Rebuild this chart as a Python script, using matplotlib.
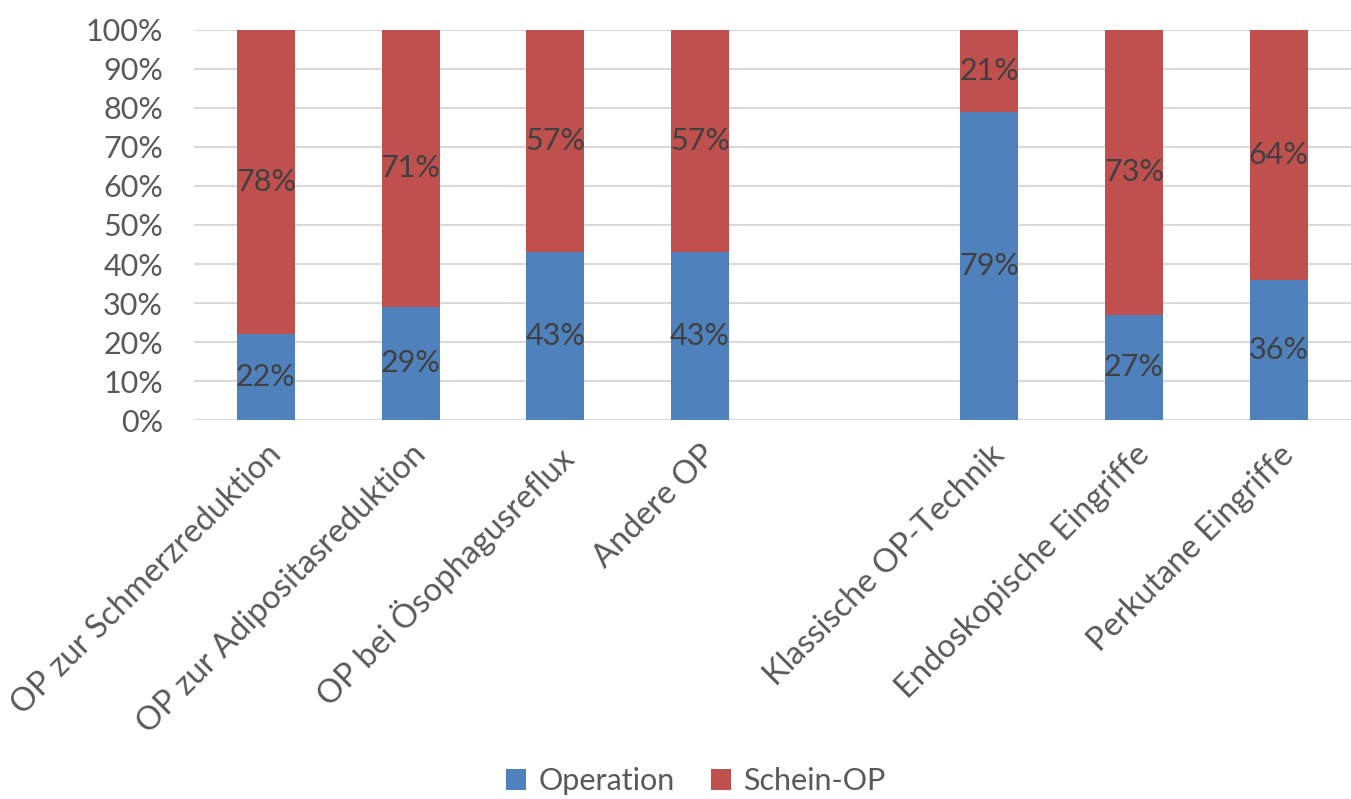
import matplotlib.pyplot as plt
import numpy as np
from matplotlib.ticker import PercentFormatter

# Anteil Operation vs. Schein-OP je Eingriffsart (leerer Platz trennt die Gruppen)
categories = ['OP zur Schmerzreduktion', 'OP zur Adipositasreduktion',
              'OP bei Ösophagusreflux', 'Andere OP', '',
              'Klassische OP-Technik', 'Endoskopische Eingriffe', 'Perkutane Eingriffe']
operation = [22, 29, 43, 43, None, 79, 27, 36]
schein_op = [78, 71, 57, 57, None, 21, 73, 64]

blue = '#4F81BD'
red = '#C0504D'
text_col = '#595959'
label_col = '#404040'
fs = 22

plt.rcParams['font.family'] = ['Lato', 'DejaVu Sans']

fig = plt.figure(figsize=(13.51, 7.99), dpi=100)
ax = fig.add_axes([0.1433, 0.4743, 0.8567, 0.4882])

x = np.arange(len(categories))
idx = [i for i, v in enumerate(operation) if v is not None]
op_vals = np.array([operation[i] for i in idx], dtype=float)
sc_vals = np.array([schein_op[i] for i in idx], dtype=float)

b1 = ax.bar(x[idx], op_vals, width=0.4, color=blue, label='Operation', zorder=3)
b2 = ax.bar(x[idx], sc_vals, width=0.4, bottom=op_vals, color=red,
            label='Schein-OP', zorder=3)

# Prozentwerte mittig in die Segmente schreiben
for xi, o, s in zip(x[idx], op_vals, sc_vals):
    ax.text(xi, o / 2, f'{o:.0f}%', ha='center', va='center',
            fontsize=fs, color=label_col, zorder=4)
    ax.text(xi, o + s / 2, f'{s:.0f}%', ha='center', va='center',
            fontsize=fs, color=label_col, zorder=4)

ax.set_xlim(-0.5, len(categories) - 0.5)
ax.set_ylim(0, 100)
ax.set_yticks(np.arange(0, 101, 10))
ax.yaxis.set_major_formatter(PercentFormatter(decimals=0))
ax.grid(axis='y', color='#D9D9D9', linewidth=1.5, zorder=0)
for sp in ax.spines.values():
    sp.set_visible(False)

ax.set_xticks(x)
ax.set_xticklabels(categories, rotation=45, ha='right', rotation_mode='anchor',
                   fontsize=23.5)
ax.tick_params(axis='both', length=0, colors=text_col)
ax.tick_params(axis='y', pad=22, labelsize=fs)
ax.tick_params(axis='x', pad=14)

fig.legend(handles=[b1, b2], loc='center', bbox_to_anchor=(0.515, 0.022),
           ncol=2, frameon=False, fontsize=fs, labelcolor=text_col,
           handlelength=0.65, handleheight=0.65, handletextpad=0.4,
           columnspacing=1.2)

fig.savefig('out.png', dpi=100)
